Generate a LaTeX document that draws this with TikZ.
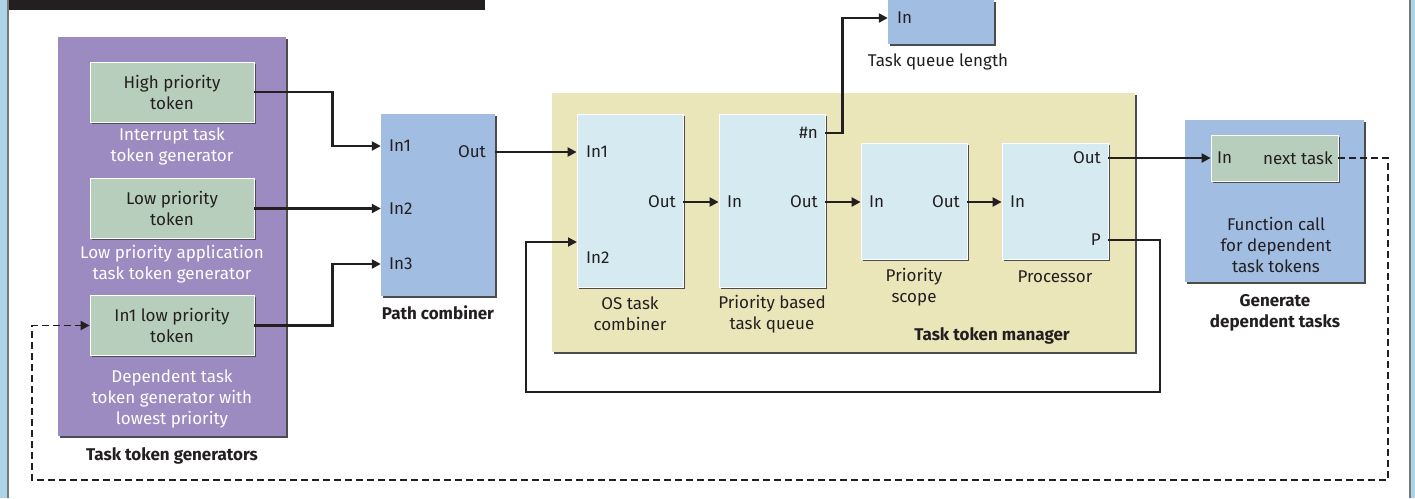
\documentclass[tikz,border=0pt]{standalone}
\usepackage{fontspec}
\setmainfont{Fira Sans}
\usepackage{tikz}
\usetikzlibrary{arrows.meta}
\usetikzlibrary{shadows}
\definecolor{frameblue}{RGB}{172,213,231}
\definecolor{framegray}{RGB}{120,120,120}
\definecolor{titlebk}{RGB}{35,31,32}
\definecolor{inkdark}{RGB}{35,31,32}
\definecolor{genpurple}{RGB}{155,139,192}
\definecolor{tokengreen}{RGB}{184,206,188}
\definecolor{combblue}{RGB}{161,189,225}
\definecolor{stagecyan}{RGB}{214,234,242}
\definecolor{mgrkhaki}{RGB}{235,230,186}
\newcommand{\lblfont}{\fontsize{17}{21}\selectfont}

\begin{document}
\begin{tikzpicture}[x=1pt,y=-1pt]
	\tikzstyle{every node}=[font=\lblfont,text=inkdark]
	\tikzstyle{boxshadow}=[drop shadow={shadow xshift=1.5pt,shadow yshift=-1.5pt,fill=black!70,opacity=1}]
	\tikzstyle{groupbox}=[rectangle,inner sep=0pt,boxshadow]
	\tikzstyle{tokenbox}=[rectangle,fill=tokengreen,draw=white,line width=0.8pt,boxshadow,align=center,inner sep=0pt]
	\tikzstyle{stagebox}=[rectangle,fill=stagecyan,draw=white,line width=0.8pt,boxshadow,inner sep=0pt,minimum width=106pt]
	\tikzstyle{port}=[inner sep=0pt]
	\tikzstyle{caption}=[align=center,inner sep=0pt]
	\tikzstyle{heading}=[align=center,inner sep=0pt,font=\lblfont\bfseries]
	\tikzstyle{conn}=[draw=inkdark,line width=2.2pt,-{Triangle[length=9pt,width=9pt]}]
	\tikzstyle{fbconn}=[draw=inkdark,line width=1.8pt,-{Triangle[length=9pt,width=9pt]}]
	\tikzstyle{dashconn}=[draw=inkdark,line width=1.8pt,dash pattern=on 7pt off 4pt,-{Triangle[length=9pt,width=9pt]}]
	\useasboundingbox (0,0) rectangle (1415,498);
	\fill[white] (0,0) rectangle (1415,498);
	\fill[frameblue] (0,0) rectangle (7,498);
	\draw[framegray,line width=1.6pt] (8,0) -- (8,498);
	\draw[framegray,line width=1.6pt] (1410,0) -- (1410,498);
	\fill[frameblue] (1411,0) rectangle (1415,498);
	\fill[titlebk] (9,0) rectangle (485,10);
	\node[groupbox,fill=genpurple,minimum width=228pt,minimum height=399pt] (gens) at (172,236.5) {};
	\node[tokenbox,minimum width=164pt,minimum height=60pt] (hi) at (172,92) {High priority\\token};
	\node[tokenbox,minimum width=164pt,minimum height=60pt] (lo) at (172,208.5) {Low priority\\token};
	\node[tokenbox,minimum width=164pt,minimum height=60pt] (dep) at (172,325.5) {In1 low priority\\token};
	\node[caption,text=white] (hicap) at (172,146.5) {Interrupt task\\token generator};
	\node[caption,text=white] (locap) at (172,264.5) {Low priority application\\task token generator};
	\node[caption,text=white] (depcap) at (172,398.5) {Dependent task\\token generator with\\lowest priority};
	\node[heading] (genslbl) at (172,456) {Task token generators};
	\node[groupbox,fill=combblue,minimum width=114pt,minimum height=182pt] (pc) at (438,205) {};
	\node[heading] (pclbl) at (438,313) {Path combiner};
	\node[port,anchor=west] (pcin1) at (389,146) {In1};
	\node[port,anchor=west] (pcin2) at (389,208.5) {In2};
	\node[port,anchor=west] (pcin3) at (389,264) {In3};
	\node[port,anchor=east] (pcout) at (486,152) {Out};
	\node[groupbox,fill=mgrkhaki,minimum width=583pt,minimum height=259pt] (ttm) at (843.5,222.5) {};
	\node[heading] (ttmlbl) at (992,336) {Task token manager};
	\node[stagebox,minimum height=173pt] (os) at (630,200.5) {};
	\node[stagebox,minimum height=173pt] (pbtq) at (772,200.5) {};
	\node[stagebox,minimum height=116pt] (ps) at (914,201) {};
	\node[stagebox,minimum height=116pt] (proc) at (1055,201) {};
	\node[caption] (oscap) at (630,314) {OS task\\combiner};
	\node[caption] (pbtqcap) at (772,314) {Priority based\\task queue};
	\node[caption] (pscap) at (914,287) {Priority\\scope};
	\node[caption] (proccap) at (1055,277) {Processor};
	\node[port,anchor=west] (osin1) at (586,152) {In1};
	\node[port,anchor=west] (osin2) at (586,258) {In2};
	\node[port,anchor=east] (osout) at (676,202) {Out};
	\node[port,anchor=west] (pbtqin) at (727,202) {In};
	\node[port,anchor=east] (pbtqout) at (818,202) {Out};
	\node[port,anchor=east] (pbtqn) at (818,133) {\#n};
	\node[port,anchor=west] (psin) at (869,202) {In};
	\node[port,anchor=east] (psout) at (960,202) {Out};
	\node[port,anchor=west] (procin) at (1010,202) {In};
	\node[port,anchor=east] (procout) at (1101,158) {Out};
	\node[port,anchor=east] (procp) at (1101,240) {P};
	\node[groupbox,fill=combblue,minimum width=106pt,minimum height=44pt] (tql) at (941,22) {};
	\node[port,anchor=west] (tqlin) at (897,18) {In};
	\node[caption] (tqlcap) at (938,62) {Task queue length};
	\node[groupbox,fill=combblue,minimum width=179pt,minimum height=162pt] (gdt) at (1274.5,201) {};
	\node[tokenbox,minimum width=127pt,minimum height=46pt] (nxt) at (1274.5,158) {};
	\node[port,anchor=west] (nxtin) at (1217,158) {In};
	\node[port,anchor=east] (nxtout) at (1333,158) {next task};
	\node[caption] (gdtcap) at (1276,245) {Function call\\for dependent\\task tokens};
	\node[heading] (gdtlbl) at (1275,312.5) {Generate\\dependent tasks};
	\coordinate (fbr) at (1160,392);
	\coordinate (fbl) at (526,392);
	\coordinate (osfb) at (577,242);
	\coordinate (dsr) at (1388,480);
	\coordinate (dsl) at (32,480);
	\draw[conn] (hi.east) -- ++(78,0) |- (pc.west |- pcin1);
	\draw[conn] (lo.east) -- (pc.west |- lo.east);
	\draw[conn] (dep.east) -- ++(78,0) |- (pc.west |- pcin3);
	\draw[conn] (pc.east |- pcout) -- (os.west |- pcout);
	\draw[conn] (os.east |- osout) -- (pbtq.west |- osout);
	\draw[conn] (pbtq.east |- pbtqout) -- (ps.west |- pbtqout);
	\draw[conn] (ps.east |- psout) -- (proc.west |- psout);
	\draw[conn] (pbtq.east |- pbtqn) -- ++(17,0) |- (tql.west |- tqlin);
	\draw[conn] (proc.east |- procout) -- (nxt.west |- procout);
	\draw[fbconn] (proc.east |- procp) -| (fbr) -- (fbl) |- (osfb);
	\draw[dashconn] (nxt.east) -| (dsr) -- (dsl) |- (dep.west);
\end{tikzpicture}
\end{document}
